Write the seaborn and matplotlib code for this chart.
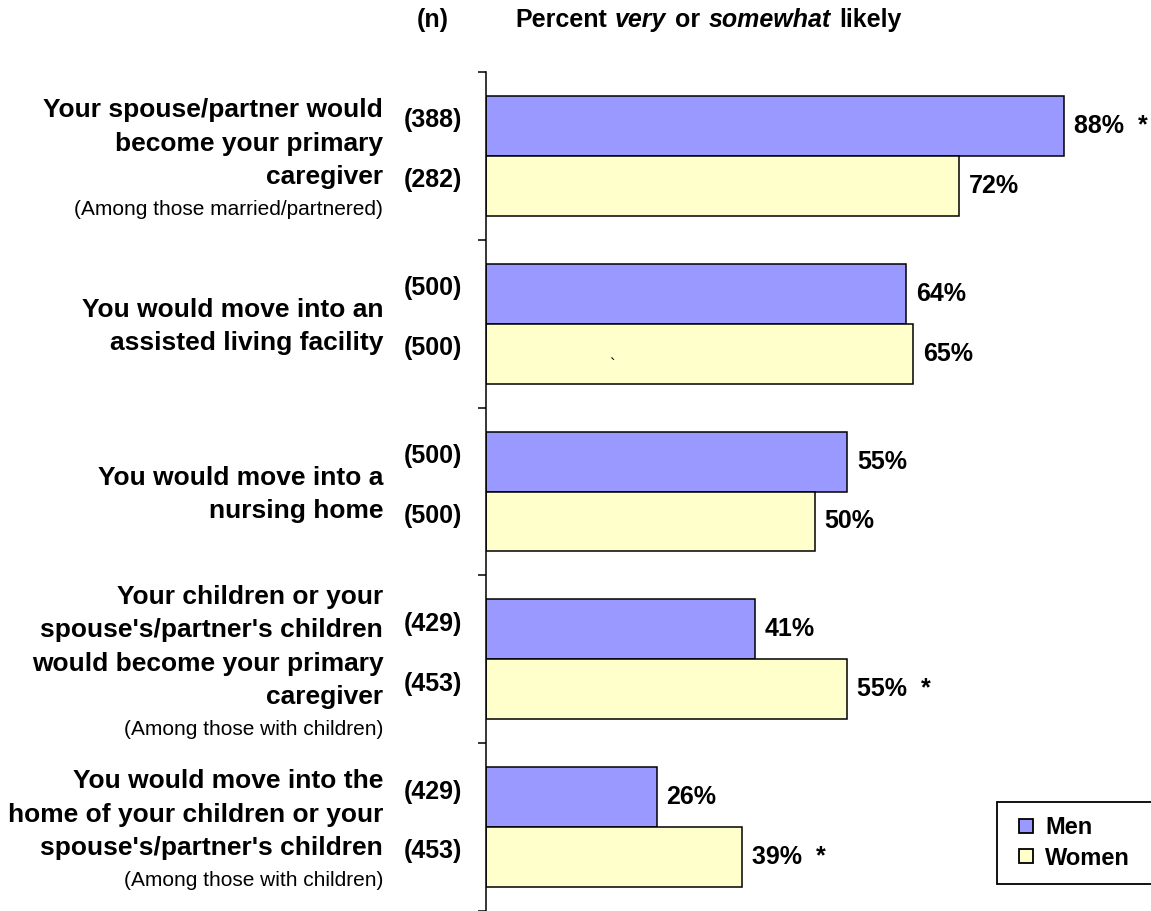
import pandas as pd
import matplotlib.pyplot as plt
import seaborn as sns
from matplotlib.lines import Line2D
from matplotlib.offsetbox import TextArea, VPacker, AnnotationBbox

sns.set_style("white")
plt.rcParams['font.family'] = ['Liberation Sans', 'DejaVu Sans']
plt.rcParams['text.color'] = 'black'

# data
categories = [
    "Your spouse/partner would\nbecome your primary\ncaregiver",
    "You would move into an\nassisted living facility",
    "You would move into a\nnursing home",
    "Your children or your\nspouse's/partner's children\nwould become your primary\ncaregiver",
    "You would move into the\nhome of your children or your\nspouse's/partner's children",
]
subnotes = [
    "(Among those married/partnered)",
    "",
    "",
    "(Among those with children)",
    "(Among those with children)",
]
men = [88, 64, 55, 41, 26]
women = [72, 65, 50, 55, 39]
men_n = [388, 500, 500, 429, 429]
women_n = [282, 500, 500, 453, 453]
men_sig = [True, False, False, False, False]
women_sig = [False, False, False, True, True]
groups = ["Men", "Women"]
colors = {"Men": "#9999FF", "Women": "#FFFFCC"}

df = pd.DataFrame({
    "category": categories * 2,
    "gender": ["Men"] * len(categories) + ["Women"] * len(categories),
    "value": men + women,
})

W, H = 1151, 911
fig = plt.figure(figsize=(W / 100, H / 100), dpi=100)
ax = fig.add_axes([486 / W, 0, 1 - 486 / W, 1 - 72 / H])

sns.barplot(data=df, y="category", x="value", hue="gender", orient="h",
            palette=colors, edgecolor="black", linewidth=1.1, width=0.714,
            saturation=1, legend=False, ax=ax)

ax.set_xlim(0, (W - 486) / 6.57)
ax.set_ylim(len(categories) - 0.5, -0.5)
ax.set_xlabel("")
ax.set_ylabel("")
ax.set_xticks([])
ax.set_yticks([])
ax.set_yticks([i - 0.5 for i in range(len(categories) + 1)], minor=True)
ax.tick_params(axis="y", which="minor", length=6, width=1.1, direction="out",
               left=True, color="black")
for s in ["top", "right", "bottom"]:
    ax.spines[s].set_visible(False)
ax.spines["left"].set_linewidth(1.1)
ax.spines["left"].set_color("black")

# value labels and n labels
nvals = {"Men": men_n, "Women": women_n}
sigs = {"Men": men_sig, "Women": women_sig}
for container, g in zip(ax.containers, groups):
    for i, bar in enumerate(container):
        w = bar.get_width()
        yc = bar.get_y() + bar.get_height() / 2
        txt = f"{w:.0f}%" + ("  *" if sigs[g][i] else "")
        ax.annotate(txt, xy=(w, yc), xytext=(7, 0), textcoords="offset points",
                    ha="left", va="center", fontsize=18, fontweight="bold",
                    annotation_clip=False)
        ax.annotate(f"({nvals[g][i]})", xy=(0, yc), xycoords=("axes fraction", "data"),
                    xytext=(-17, 4), textcoords="offset points",
                    ha="right", va="center", fontsize=18, fontweight="bold",
                    annotation_clip=False)

# stray mark in the original
ax.text(19.2, 1.25, "`", fontsize=12, ha="center", va="center")

# category labels
for i, (lab, sub) in enumerate(zip(categories, subnotes)):
    kids = [TextArea(lab, textprops=dict(fontsize=19, fontweight="bold",
                                         multialignment="right", linespacing=1.5))]
    if sub:
        kids.append(TextArea(sub, textprops=dict(fontsize=15)))
    box = VPacker(children=kids, align="right", pad=0, sep=8)
    ab = AnnotationBbox(box, xy=(0, i), xycoords=ax.get_yaxis_transform(),
                        xybox=(-74, -2), boxcoords="offset points",
                        box_alignment=(1, 0.5), frameon=False, annotation_clip=False)
    ax.add_artist(ab)

# header
fig.text(433 / W, 1 - 20 / H, "(n)", ha="center", va="center", fontsize=18, fontweight="bold")
parts = [("Percent", "normal"), ("very", "italic"), ("or", "normal"),
         ("somewhat", "italic"), ("likely", "normal")]
prev = fig.text(515 / W, 1 - 20 / H, parts[0][0], ha="left", va="center",
                fontsize=18, fontweight="bold")
for word, style in parts[1:]:
    prev = ax.annotate(word, xy=(1, 0), xycoords=prev, xytext=(6, 0),
                       textcoords="offset points", ha="left", va="bottom",
                       fontsize=18, fontweight="bold", style=style,
                       annotation_clip=False)

# legend
handles = [Line2D([], [], linestyle="none", marker="s", markersize=10,
                  markerfacecolor=colors[g], markeredgecolor="black",
                  markeredgewidth=1.3) for g in groups]
leg = ax.legend(handles, groups, loc="upper left",
                bbox_to_anchor=(997 / W, 1 - 802 / H - 0.01, 160 / W, 0.01),
                bbox_transform=fig.transFigure, mode="expand",
                frameon=True, fancybox=False, edgecolor="black", framealpha=1,
                handlelength=1.25, handletextpad=0.2,
                labelspacing=0.32, borderpad=0.6, borderaxespad=0,
                prop=dict(size=17, weight="bold"))
leg.get_frame().set_linewidth(1.3)

fig.savefig("out.png", dpi=100)
